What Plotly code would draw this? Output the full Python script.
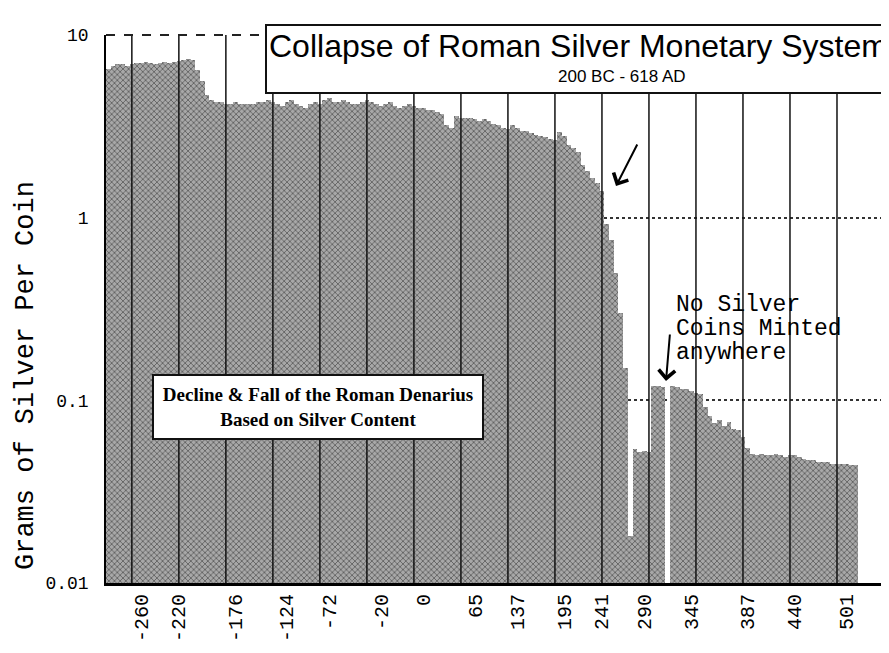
import plotly.graph_objects as go

# ---- data ----
silver_grams = (
    [6.5, 6.8, 6.9, 6.9, 6.8, 6.9]
    + [7.0, 7.0, 7.1, 7.0, 6.9, 7.0, 7.1, 7.0, 7.1, 7.2]
    + [7.3, 7.4, 7.3, 6.4]
    + [5.6]
    + [4.7]
    + [4.4, 4.3, 4.3, 4.2, 4.2, 4.3, 4.2, 4.2, 4.2, 4.2, 4.3, 4.3, 4.4]
    + [4.3, 4.2, 4.1, 4.3, 4.4, 4.2, 4.1, 4.0, 4.2, 4.3, 4.2]
    + [4.4, 4.5, 4.3, 4.3, 4.4, 4.3, 4.2, 4.2, 4.3, 4.4]
    + [4.3, 4.2, 4.1, 4.2, 4.3, 4.1, 4.0, 4.1, 4.2, 4.1, 4.0]
    + [4.0, 3.9, 3.9, 3.8]
    + [3.7, 3.2, 3.1, 3.6, 3.5]
    + [3.5, 3.5, 3.45, 3.4, 3.45, 3.4]
    + [3.25, 3.2, 3.1, 3.05]
    + [3.2, 3.1, 3.0, 3.0, 2.9, 2.85, 2.8, 2.75, 2.7, 2.65]
    + [2.95, 2.8]
    + [2.5, 2.4, 2.3]
    + [1.95, 1.8, 1.65]
    + [1.55, 1.4]
    + [0.92, 0.75, 0.5, 0.3, 0.15]
    + [0.018]
    + [0.054, 0.052, 0.053, 0.052]
    + [0.12, 0.12, 0.118]
    + [None]
    + [0.12, 0.118, 0.115, 0.116, 0.112, 0.11, 0.108]
    + [0.092, 0.082]
    + [0.075, 0.078, 0.072, 0.076, 0.07, 0.069]
    + [0.063, 0.055]
    + [0.051, 0.050, 0.051, 0.050, 0.050, 0.051, 0.050, 0.049, 0.050, 0.050, 0.049]
    + [0.048, 0.047, 0.047, 0.046, 0.046, 0.046, 0.045, 0.045, 0.045, 0.045, 0.044, 0.044]
)
bar_index = list(range(len(silver_grams)))

tick_labels = ["-260", "-220", "-176", "-124", "-72", "-20", "0", "65",
               "137", "195", "241", "290", "345", "387", "440", "501"]
tick_bar_index = [7, 15, 27, 38, 47, 58, 67, 78, 87, 97, 105, 114, 124, 136, 146, 157]
grid_bar_index = list(range(5, 166, 10))

y_tick_values = [0.01, 0.1, 1, 10]
y_tick_text = ["0.01", "0.1", "1", "10"]

# ---- layout geometry (pixels) ----
W, H = 889, 653
L, R, T, B = 98, 876, 27, 575


def px(x):
    return (x - L) / (R - L)


def py(y):
    return (B - y) / (B - T)


fig = go.Figure()
fig.add_trace(go.Bar(
    x=bar_index, y=silver_grams,
    marker=dict(color="#8a8a8a", line=dict(width=0),
                pattern=dict(shape="x", fgcolor="#1a1a1a", bgcolor="#a8a8a8",
                             size=4, solidity=0.4)),
    showlegend=False,
))

for g in grid_bar_index:
    fig.add_shape(type="line", x0=g, x1=g, xref="x", y0=0, y1=1, yref="paper",
                  line=dict(color="#111", width=1.5,
                            dash="dot" if g == grid_bar_index[-1] else "solid"),
                  layer="above")
fig.add_shape(type="line", x0=0, x1=1, xref="paper", y0=1, y1=1, yref="paper",
              line=dict(color="#222", width=2, dash="dash"), layer="above")

mono = "Liberation Mono, Courier New, monospace"

fig.update_layout(
    width=W, height=H, autosize=False,
    margin=dict(l=L, r=W - R, t=T, b=H - B),
    paper_bgcolor="white", plot_bgcolor="white",
    bargap=0,
    xaxis=dict(range=[-0.5, 165.0], tickmode="array", tickvals=tick_bar_index,
               ticktext=tick_labels, tickangle=-90, showgrid=False, zeroline=False,
               showline=True, linecolor="black", linewidth=3, ticks="",
               tickfont=dict(family=mono, size=20, color="black")),
    yaxis=dict(type="log", range=[-2, 1], tickmode="array", tickvals=y_tick_values,
               ticktext=y_tick_text, showgrid=True, gridcolor="#333", griddash="dot",
               gridwidth=1.5, showline=True, linecolor="black", linewidth=1.5,
               ticks="", zeroline=False, ticklabelstandoff=12,
               tickfont=dict(family=mono, size=18, color="black")),
)

ann = []
ann.append(dict(x=px(257), y=py(16), xref="paper", yref="paper", xanchor="left",
                yanchor="top", showarrow=False,
                text="Collapse of Roman Silver Monetary System",
                font=dict(family="Liberation Sans, Arial, sans-serif", size=32, color="black"),
                bgcolor="white", bordercolor="#111", borderwidth=2, borderpad=2,
                height=62, valign="top"))
ann.append(dict(x=px(614), y=py(69), xref="paper", yref="paper", xanchor="center",
                yanchor="middle", showarrow=False, text="200 BC - 618 AD",
                font=dict(family="Liberation Sans Narrow, Arial Narrow, Liberation Sans, sans-serif",
                          size=17, color="black")))
ann.append(dict(x=px(310), y=py(399), xref="paper", yref="paper", xanchor="center",
                yanchor="middle", showarrow=False,
                text="<b>Decline & Fall of the Roman Denarius<br>Based on Silver Content</b>",
                font=dict(family="Liberation Serif, Times New Roman, serif", size=19, color="black"),
                bgcolor="white", bordercolor="#111", borderwidth=2, borderpad=1,
                width=326, height=60))
for txt, yy in [("No Silver", 297), ("Coins Minted", 321), ("anywhere", 345)]:
    ann.append(dict(x=px(667), y=py(yy), xref="paper", yref="paper", xanchor="left",
                    yanchor="middle", showarrow=False, text=txt, borderpad=0,
                    font=dict(family=mono, size=23, color="black")))
ann.append(dict(x=px(608), y=py(178), xref="paper", yref="paper", text="",
                showarrow=True, ax=22, ay=-43, arrowhead=4, arrowsize=1.6,
                arrowwidth=2, arrowcolor="black"))
ann.append(dict(x=px(658), y=py(373), xref="paper", yref="paper", text="",
                showarrow=True, ax=4, ay=-48, arrowhead=4, arrowsize=1.6,
                arrowwidth=2, arrowcolor="black"))
ann.append(dict(x=px(18), y=py(368), xref="paper", yref="paper", xanchor="center",
                yanchor="middle", showarrow=False, textangle=-90,
                text="Grams of Silver Per Coin",
                font=dict(family=mono, size=27, color="black")))
fig.update_layout(annotations=ann)

fig.write_html("out.html")
